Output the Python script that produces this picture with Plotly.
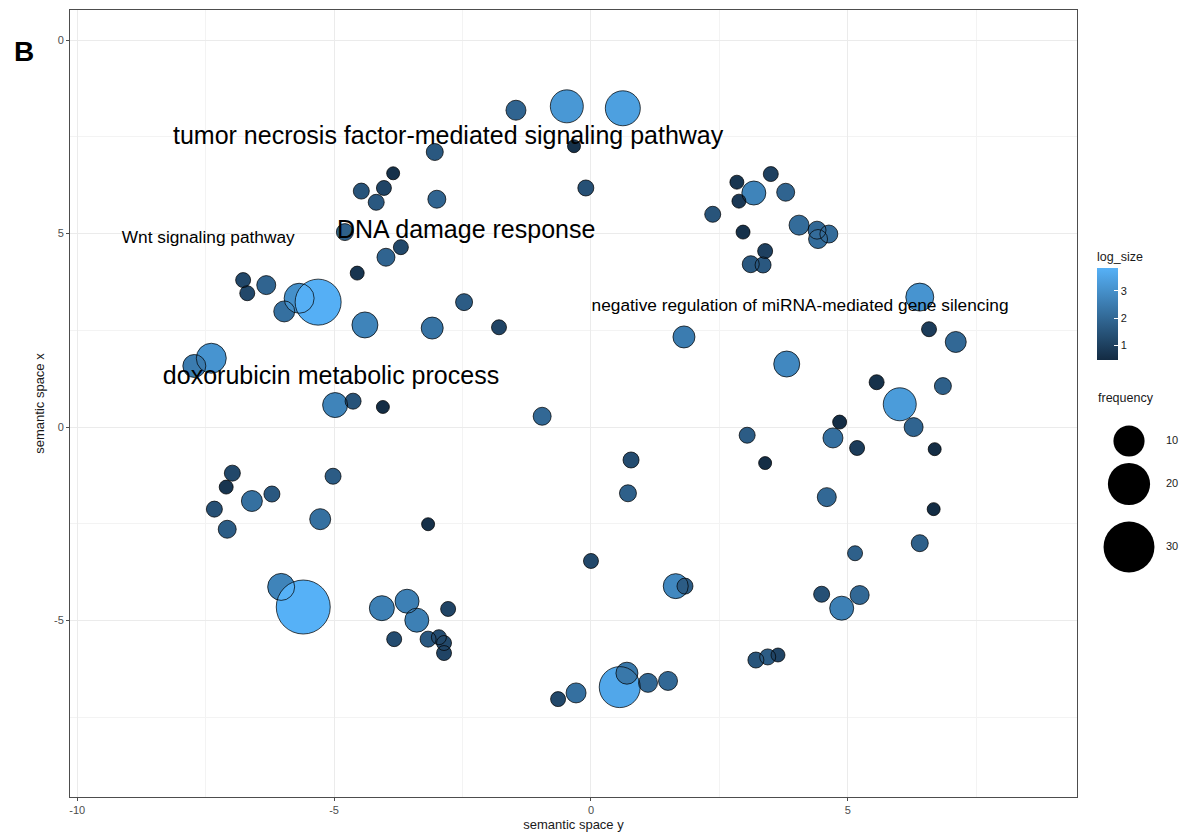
import numpy as np
import plotly.graph_objects as go

# ---------------- data ----------------
# horizontal axis = "semantic space y", vertical axis = "semantic space x"
sem_y = [-1.46, -0.47, 0.62, -0.33, -0.10, -3.04, -3.85, -4.03, -4.47, -4.18,
         -3.00, -4.79, -3.70, -3.99, -4.55, -6.77, -6.32, -6.69, -5.97, -5.68,
         -5.31, -4.40, -3.09, -2.47, -1.79, -7.39, -7.72, -4.98, -4.63, -4.05,
         -0.95, -6.98, -7.10, -6.60, -6.21, -7.33, -7.08, -5.27, -5.02, -3.17,
         -6.03, -5.60, -4.07, -3.58, -3.39, -2.78, -3.83, -3.17, -2.96, -2.86,
         -2.86, 2.84, 3.50, 3.17, 3.79, 2.88, 2.37, 4.05, 4.40, 4.63,
         4.42, 2.96, 3.39, 3.11, 3.35, 6.40, 6.58, 7.10, 1.81, 3.81,
         5.56, 6.85, 6.01, 6.28, 4.84, 4.71, 5.18, 6.69, 3.04, 3.39,
         0.78, 0.72, 6.67, 4.59, 6.40, 5.14, 0.00, 1.65, 1.83, 4.49,
         5.23, 4.88, 3.21, 3.44, 3.64, 0.56, 0.70, 1.11, 1.50, -0.29,
         -0.64]
sem_x = [8.19, 8.29, 8.24, 7.26, 6.18, 7.11, 6.56, 6.18, 6.10, 5.81,
         5.89, 5.04, 4.65, 4.39, 3.98, 3.80, 3.67, 3.46, 2.99, 3.33,
         3.23, 2.64, 2.56, 3.23, 2.58, 1.78, 1.58, 0.57, 0.67, 0.52,
         0.28, -1.19, -1.55, -1.91, -1.73, -2.12, -2.64, -2.38, -1.27, -2.51,
         -4.13, -4.65, -4.68, -4.50, -4.99, -4.70, -5.48, -5.48, -5.43, -5.58,
         -5.84, 6.33, 6.54, 6.05, 6.07, 5.84, 5.50, 5.22, 5.09, 4.99,
         4.86, 5.04, 4.55, 4.21, 4.19, 3.36, 2.53, 2.20, 2.33, 1.63,
         1.16, 1.06, 0.59, 0.00, 0.13, -0.28, -0.54, -0.57, -0.21, -0.93,
         -0.85, -1.71, -2.12, -1.81, -3.00, -3.26, -3.46, -4.11, -4.11, -4.32,
         -4.34, -4.68, -6.02, -5.94, -5.89, -6.72, -6.36, -6.61, -6.56, -6.87,
         -7.03]
log_size = [1.9, 3.2, 3.4, 0.6, 1.4, 1.6, 0.6, 1.1, 1.5, 1.6,
            1.9, 1.8, 1.2, 1.9, 0.7, 1.2, 1.9, 1.2, 2.2, 3.0,
            3.8, 2.7, 2.3, 1.7, 1.1, 3.1, 2.5, 2.7, 1.5, 0.5,
            2.0, 1.2, 0.7, 2.2, 1.6, 1.4, 1.7, 2.2, 1.7, 0.6,
            2.7, 3.84, 2.6, 2.6, 2.6, 1.1, 1.3, 1.6, 1.3, 1.2,
            1.1, 0.7, 1.0, 2.7, 1.9, 0.8, 1.5, 2.1, 2.0, 2.1,
            2.1, 0.6, 1.0, 1.6, 1.6, 3.1, 0.9, 2.0, 2.5, 2.8,
            0.6, 1.8, 3.3, 1.9, 0.5, 2.2, 0.9, 0.5, 1.7, 0.5,
            1.3, 1.8, 0.5, 2.0, 1.8, 1.8, 1.2, 2.8, 1.7, 1.4,
            2.0, 2.6, 1.5, 1.7, 1.1, 3.6, 2.4, 2.0, 2.0, 2.2,
            1.2]
frequency = [2.96, 11.47, 13.15, 0.11, 1.19, 1.59, 0.11, 0.80, 1.19, 1.19,
             2.02, 1.59, 0.80, 2.02, 0.44, 0.80, 2.48, 0.80, 3.47, 9.14,
             24.15, 6.37, 4.00, 1.59, 0.80, 9.14, 4.56, 5.74, 1.19, 0.11,
             2.02, 1.19, 0.44, 3.47, 1.19, 1.19, 2.02, 3.47, 1.19, 0.11,
             7.02, 34.0, 5.74, 5.14, 5.14, 0.80, 0.80, 1.19, 0.80, 0.80,
             0.80, 0.44, 0.80, 5.14, 2.02, 0.44, 1.19, 2.96, 2.02, 2.02,
             2.48, 0.44, 0.80, 1.59, 1.19, 7.70, 0.80, 3.47, 4.00, 6.37,
             0.80, 1.59, 11.47, 2.48, 0.44, 2.96, 0.80, 0.11, 1.19, 0.11,
             1.19, 1.59, 0.11, 2.48, 1.59, 0.80, 0.80, 5.74, 1.19, 1.19,
             2.48, 5.14, 1.19, 1.19, 0.44, 18.78, 4.00, 2.48, 2.48, 2.96,
             0.80]

label_text = ["tumor necrosis factor-mediated signaling pathway",
              "DNA damage response",
              "Wnt signaling pathway",
              "negative regulation of miRNA-mediated gene silencing",
              "doxorubicin metabolic process"]
label_sem_y = [-2.78, -2.43, -7.45, 4.07, -5.06]
label_sem_x = [7.49, 5.04, 4.88, 3.10, 1.27]

x_tick_vals = [-10, -5, 0, 5]
x_tick_text = ["-10", "-5", "0", "5"]
y_tick_vals = [10, 5, 0, -5]
y_tick_text = ["0", "5", "0", "-5"]
colorbar_ticks = [1, 2, 3]
legend_freq = [10, 20, 30]
legend_freq_text = ["10", "20", "30"]

# ---------------- styling ----------------
FONT = "Liberation Sans, Arial, sans-serif"
COLORSCALE = [[0, "#132B43"], [1, "#56B1F7"]]
CMIN, CMAX = 0.46, 3.84
label_font_sizes = [25, 25, 17.3, 17.3, 25]


def size_scale(f):
    """ggplot-like size scale: marker area linear in frequency (px diameter)."""
    return np.sqrt(160.0 + 81.0 * np.asarray(f, dtype=float))


W, H = 1182, 832
ML, MR, MT, MB = 70, 0, 10, 35
PW = W - ML - MR
PH = H - MT - MB
main_right_px = 1077
main_dom_x = [0, (main_right_px - ML) / PW]


def px_to_paper_x(px):
    return (px - ML) / PW


def py_to_paper_y(py):
    return (H - MB - py) / PH


fig = go.Figure()

# filled bubbles
fig.add_trace(go.Scatter(
    x=sem_y, y=sem_x, mode="markers", hoverinfo="skip", showlegend=False,
    marker=dict(
        size=size_scale(frequency), color=log_size,
        colorscale=COLORSCALE, cmin=CMIN, cmax=CMAX, opacity=1,
        line=dict(width=0),
        colorbar=dict(
            title=dict(text="log_size", side="top",
                       font=dict(family=FONT, size=12.5, color="#1a1a1a")),
            x=px_to_paper_x(1097), xanchor="left", xpad=0,
            y=py_to_paper_y(304.5), yanchor="middle", ypad=0,
            len=111, lenmode="pixels", thickness=21, thicknessmode="pixels",
            outlinewidth=0, tickvals=colorbar_ticks, ticks="inside",
            ticklen=4, tickcolor="white", tickwidth=1,
            tickfont=dict(family=FONT, size=11, color="#1a1a1a"),
        ),
    ),
))

# outlines drawn on top of all fills
fig.add_trace(go.Scatter(
    x=sem_y, y=sem_x, mode="markers", hoverinfo="skip", showlegend=False,
    marker=dict(size=size_scale(frequency), color="rgba(0,0,0,0)", opacity=1,
                line=dict(width=1, color="rgba(0,0,0,0.72)")),
))

# term labels
fig.add_trace(go.Scatter(
    x=label_sem_y, y=label_sem_x, mode="text", text=label_text,
    textposition="middle center", hoverinfo="skip", showlegend=False,
    textfont=dict(family=FONT, size=label_font_sizes, color="black"),
))

# frequency legend (separate small axes in the right margin)
legend_key_y = [441, 484, 547]
fig.add_trace(go.Scatter(
    x=[1129] * len(legend_freq), y=legend_key_y, mode="markers",
    xaxis="x2", yaxis="y2", hoverinfo="skip", showlegend=False,
    marker=dict(size=size_scale(legend_freq), color="black", opacity=1,
                line=dict(width=0)),
))
fig.add_trace(go.Scatter(
    x=[1172] * len(legend_freq), y=legend_key_y, mode="text",
    text=legend_freq_text, xaxis="x2", yaxis="y2", hoverinfo="skip",
    showlegend=False, textposition="middle center",
    textfont=dict(family=FONT, size=11, color="#1a1a1a"),
))

axis_common = dict(
    showline=True, mirror=True, linecolor="#4d4d4d", linewidth=1,
    ticks="outside", ticklen=3, tickcolor="#4d4d4d", tickwidth=1,
    tickfont=dict(family=FONT, size=11, color="#4d4d4d"),
    showgrid=True, gridcolor="#EBEBEB", gridwidth=1, zeroline=False,
    minor=dict(tickmode="linear", tick0=0, dtick=2.5, showgrid=True,
               gridcolor="#F3F3F3", gridwidth=1, ticks=""),
)

fig.update_layout(
    width=W, height=H, autosize=False,
    margin=dict(l=ML, r=MR, t=MT, b=MB, pad=0),
    paper_bgcolor="white", plot_bgcolor="white",
    font=dict(family=FONT, color="#1a1a1a"),
    xaxis=dict(domain=main_dom_x, range=[-10.14, 9.46],
               tickmode="array", tickvals=x_tick_vals, ticktext=x_tick_text,
               title=dict(text="semantic space y", standoff=4,
                          font=dict(family=FONT, size=13, color="#1a1a1a")),
               automargin=False, **axis_common),
    yaxis=dict(range=[-9.56, 10.78], tickmode="array",
               tickvals=y_tick_vals, ticktext=y_tick_text,
               title=dict(text="semantic space x", standoff=6,
                          font=dict(family=FONT, size=13, color="#1a1a1a")),
               automargin=False, **axis_common),
    xaxis2=dict(domain=[px_to_paper_x(1085), 1.0], range=[1085, 1182],
                anchor="y2", visible=False, fixedrange=True),
    yaxis2=dict(domain=[py_to_paper_y(575), py_to_paper_y(405)],
                range=[575, 405], anchor="x2", visible=False, fixedrange=True),
    annotations=[
        dict(text="<b>B</b>", xref="paper", yref="paper",
             x=px_to_paper_x(12), y=py_to_paper_y(51), xanchor="left",
             yanchor="middle", showarrow=False,
             font=dict(family=FONT, size=28, color="black")),
        dict(text="frequency", xref="paper", yref="paper",
             x=px_to_paper_x(1096), y=py_to_paper_y(398), xanchor="left",
             yanchor="middle", showarrow=False,
             font=dict(family=FONT, size=12.5, color="#1a1a1a")),
    ],
)

fig.write_html("out.html", config={"displayModeBar": False},
               post_script="document.body.style.margin='0';")
